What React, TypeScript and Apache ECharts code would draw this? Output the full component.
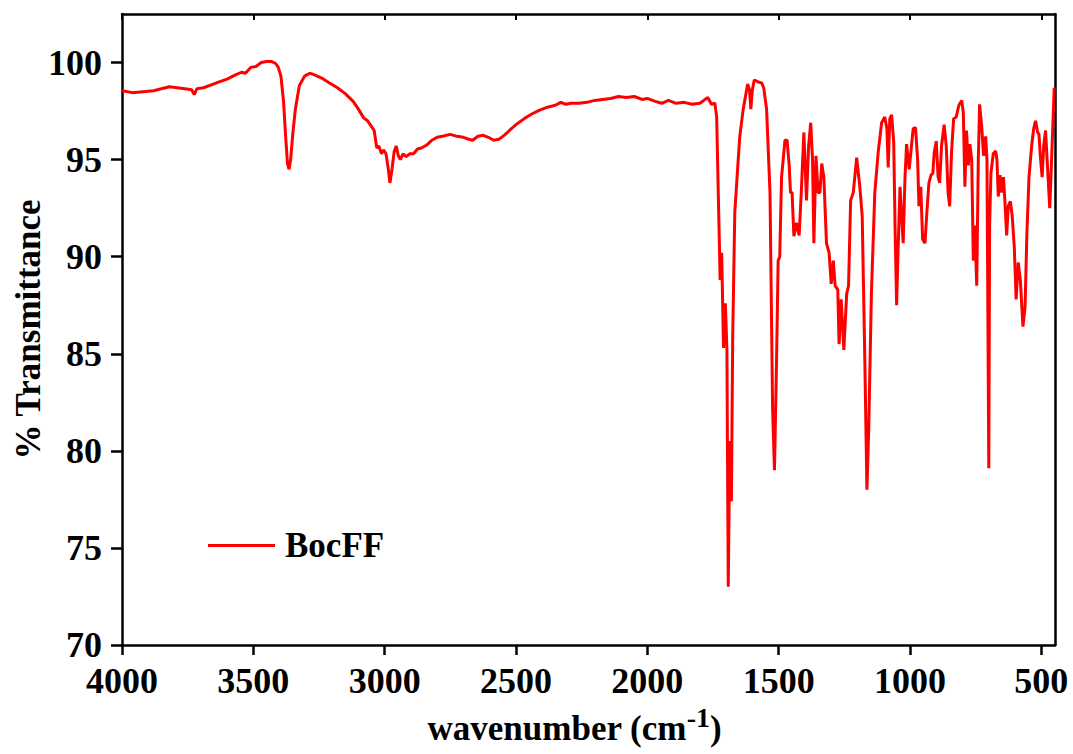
import React, { useEffect, useRef } from "react";
import * as echarts from "echarts";

const wavenumbers: number[] = [
  4000, 3960, 3920, 3880, 3850, 3820, 3790, 3760, 3735, 3725, 3715, 3690, 3660, 3630, 3600, 3570, 3545, 3530, 3510, 3490,
  3470, 3450, 3430, 3415, 3405, 3395, 3385, 3377, 3370, 3364, 3358, 3350, 3340, 3325, 3305, 3285, 3265, 3240, 3210, 3180,
  3150, 3120, 3100, 3080, 3065, 3050, 3040, 3030, 3022, 3012, 3004, 2995, 2987, 2980, 2972, 2964, 2956, 2948, 2940, 2930,
  2918, 2905, 2890, 2875, 2860, 2840, 2820, 2800, 2780, 2750, 2725, 2700, 2680, 2665, 2645, 2625, 2605, 2585, 2565, 2545,
  2525, 2500, 2470, 2440, 2410, 2380, 2350, 2330, 2310, 2290, 2260, 2230, 2200, 2170, 2140, 2110, 2080, 2050, 2020, 2000,
  1970, 1945, 1920, 1890, 1860, 1830, 1800, 1785, 1770, 1756, 1743, 1736, 1730, 1725, 1723, 1717, 1710, 1703, 1697, 1692,
  1686, 1680, 1675, 1667, 1654, 1648, 1635, 1618, 1611, 1606, 1600, 1593, 1578, 1565, 1557, 1546, 1533, 1523, 1516, 1508,
  1502, 1496, 1489, 1476, 1468, 1460, 1455, 1449, 1442, 1432, 1422, 1414, 1404, 1394, 1386, 1378, 1371, 1366, 1358, 1350,
  1343, 1336, 1328, 1318, 1308, 1300, 1292, 1285, 1275, 1270, 1262, 1252, 1241, 1234, 1226, 1216, 1203, 1191, 1182, 1172,
  1164, 1157, 1147, 1134, 1121, 1108, 1096, 1088, 1083, 1077, 1070, 1062, 1057, 1051, 1045, 1038, 1032, 1026, 1019, 1013,
  1007, 1003, 997, 988, 979, 971, 966, 959, 952, 943, 936, 928, 920, 913, 908, 900, 893, 887, 880, 870,
  862, 855, 849, 842, 834, 824, 814, 803, 797, 791, 785, 778, 772, 765, 759, 753, 746, 740, 735, 727,
  720, 712, 707, 700, 697, 692, 683, 674, 669, 664, 657, 651, 644, 639, 632, 626, 618, 611, 603, 596,
  588, 580, 570, 562, 555, 547, 537, 529, 522, 514, 509, 504, 497, 491, 484, 476, 468, 461, 451,
];

const transmittance: number[] = [
  98.55, 98.45, 98.5, 98.55, 98.65, 98.75, 98.7, 98.65, 98.6, 98.35, 98.65, 98.7, 98.85, 99.0, 99.15, 99.35, 99.5, 99.45, 99.75, 99.8,
  100.0, 100.05, 100.05, 99.95, 99.75, 99.3, 98.0, 96.2, 94.8, 94.5, 95.0, 96.3, 97.6, 98.8, 99.3, 99.45, 99.35, 99.2, 98.95, 98.7,
  98.4, 98.0, 97.6, 97.15, 97.0, 96.7, 96.5, 95.6, 95.7, 95.3, 95.5, 95.3, 94.6, 93.8, 94.5, 95.4, 95.7, 95.2, 95.0, 95.3,
  95.15, 95.3, 95.3, 95.55, 95.6, 95.75, 96.0, 96.15, 96.2, 96.3, 96.2, 96.15, 96.05, 96.0, 96.2, 96.25, 96.15, 96.0, 96.05, 96.25,
  96.5, 96.8, 97.1, 97.35, 97.55, 97.7, 97.8, 97.95, 97.85, 97.9, 97.9, 97.95, 98.05, 98.1, 98.15, 98.25, 98.2, 98.25, 98.1, 98.15,
  98.0, 97.9, 98.05, 97.9, 97.95, 97.85, 97.9, 98.05, 98.2, 97.85, 97.9, 97.2, 93.3, 90.2, 88.8, 90.2, 85.3, 87.6, 85.2, 73.0,
  80.5, 77.4, 85.9, 92.3, 95.0, 96.2, 97.6, 98.9, 98.6, 97.6, 98.6, 99.1, 99.0, 98.95, 98.7, 97.6, 93.3, 82.1, 79.0, 84.7,
  89.8, 90.0, 94.1, 96.0, 96.0, 94.7, 93.3, 93.3, 91.05, 91.75, 91.1, 93.3, 96.4, 92.9, 95.7, 96.9, 95.0, 90.7, 95.2, 93.3,
  93.3, 94.8, 94.1, 90.7, 90.2, 88.6, 89.8, 88.5, 88.3, 85.5, 87.8, 85.2, 88.1, 88.5, 92.9, 93.3, 95.1, 93.6, 92.1, 84.7,
  78.0, 81.2, 88.1, 93.3, 95.4, 96.9, 97.2, 96.6, 94.6, 97.1, 97.3, 95.9, 91.6, 87.5, 90.5, 93.6, 92.1, 90.7, 94.1, 95.8,
  95.0, 94.5, 95.35, 96.6, 96.65, 95.0, 92.6, 93.6, 90.9, 90.7, 92.25, 93.8, 94.2, 94.3, 95.35, 95.95, 94.1, 93.8, 95.7, 96.8,
  95.7, 93.3, 92.6, 95.35, 97.1, 97.2, 97.8, 98.05, 97.4, 93.6, 96.5, 94.7, 95.8, 95.0, 89.8, 91.6, 88.5, 95.0, 97.85, 96.7,
  95.2, 96.2, 95.0, 79.1, 91.6, 94.3, 95.3, 95.45, 95.0, 93.1, 94.2, 93.3, 94.1, 92.9, 91.1, 92.6, 92.85, 92.1, 90.5, 87.8,
  89.7, 88.8, 86.4, 87.4, 91.2, 94.1, 95.7, 96.6, 97.0, 96.4, 96.3, 95.2, 94.1, 95.7, 96.5, 94.5, 92.5, 95.0, 98.7,
];

const xTicks: number[] = [4000, 3500, 3000, 2500, 2000, 1500, 1000, 500];
const yTicks: number[] = [70, 75, 80, 85, 90, 95, 100];
const seriesName = "BocFF";

const FONT = '"Liberation Serif", "Times New Roman", serif';

export default function App() {
  const ref = useRef<HTMLDivElement>(null);
  useEffect(() => {
    if (!ref.current) return;
    const chart = echarts.init(ref.current, undefined, { renderer: "svg" });
    const data = wavenumbers.map((w, i) => [w, transmittance[i]]);
    const axisLine = { show: true, lineStyle: { color: "#000", width: 2.5 } };
    const labelStyle = { fontFamily: FONT, fontWeight: "bold" as const, fontSize: 36, color: "#000" };
    const fmt = (v: number) => String(v);
    chart.setOption({
      animation: false,
      backgroundColor: "#fff",
      grid: { left: 122, top: 14, right: 18, bottom: 109, containLabel: false, outerBoundsMode: "none" },
      legend: {
        show: true,
        left: 208,
        top: 528,
        padding: 0,
        itemWidth: 67,
        itemHeight: 3,
        textStyle: { ...labelStyle, fontSize: 35, padding: [0, 0, 0, 5] },
        data: [{ name: seriesName, icon: "rect", itemStyle: { color: "#ff0000" } }],
      },
      xAxis: [
        {
          type: "value",
          inverse: true,
          min: 448,
          max: 4000,
          position: "bottom",
          axisLine,
          splitLine: { show: false },
          axisTick: { show: true, customValues: xTicks, length: 10, lineStyle: { width: 2.5, color: "#000" } },
          axisLabel: { ...labelStyle, customValues: xTicks, margin: 18, formatter: fmt },
          name: "{a|wavenumber (cm}{s|-1}{a|)}",
          nameLocation: "middle",
          nameGap: 57,
          nameTextStyle: {
            padding: [0, 28, 0, 0],
            rich: {
              a: { ...labelStyle, fontSize: 35, lineHeight: 42, verticalAlign: "bottom" },
              s: { ...labelStyle, fontSize: 28, lineHeight: 28, verticalAlign: "top" },
            },
          },
        },
        {
          type: "value",
          inverse: true,
          min: 448,
          max: 4000,
          position: "top",
          axisLine,
          splitLine: { show: false },
          axisTick: { show: true, inside: true, customValues: xTicks, length: 6, lineStyle: { width: 2, color: "#000" } },
          axisLabel: { show: false },
        },
      ],
      yAxis: [
        {
          type: "value",
          min: 70,
          max: 102.5,
          position: "left",
          axisLine,
          splitLine: { show: false },
          axisTick: { show: true, customValues: yTicks, length: 11, lineStyle: { width: 2.5, color: "#000" } },
          axisLabel: { ...labelStyle, customValues: yTicks, margin: 20, formatter: fmt },
          name: "% Transmittance",
          nameLocation: "middle",
          nameGap: 76,
          nameMoveOverlap: false,
          nameTextStyle: { ...labelStyle, fontSize: 35 },
        },
        {
          type: "value",
          min: 70,
          max: 102.5,
          position: "right",
          axisLine,
          splitLine: { show: false },
          axisTick: { show: false },
          axisLabel: { show: false },
        },
      ],
      series: [
        {
          name: seriesName,
          type: "line",
          xAxisIndex: 0,
          yAxisIndex: 0,
          data,
          symbol: "none",
          showSymbol: false,
          lineStyle: { color: "#ff0000", width: 3 },
          itemStyle: { color: "#ff0000" },
          clip: true,
        },
      ],
    });
    return () => chart.dispose();
  }, []);
  return (
    <div
      ref={ref}
      style={{ position: "absolute", left: 0, top: 0, width: 1073, height: 754, background: "#fff" }}
    />
  );
}
